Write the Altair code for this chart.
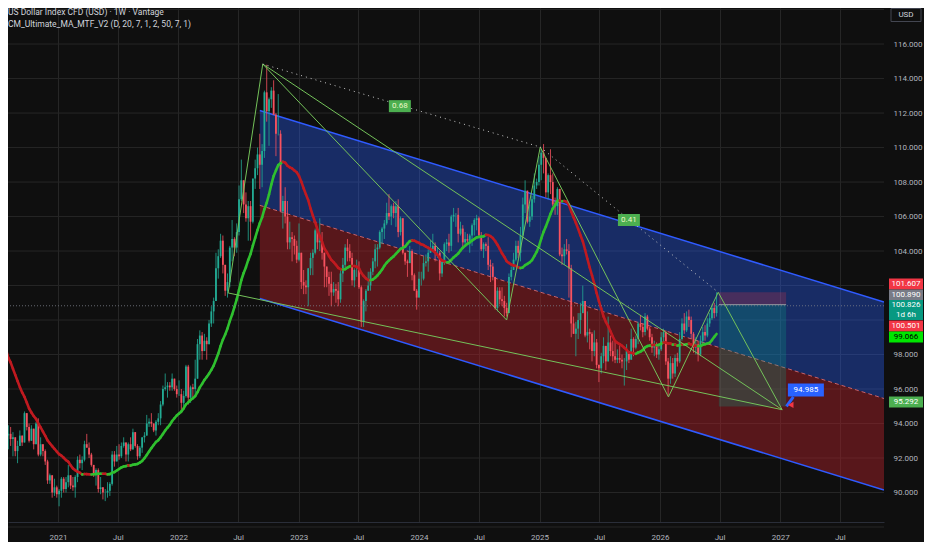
import altair as alt
import pandas as pd

# ---------------- weekly OHLC (open = previous close) ----------------
first_open = 96.0
close_2020 = [98.7, 102.8, 98.4, 100.6, 99.5, 99.8, 100.4, 99.1, 99.7, 100.4, 99.9, 98.3, 96.9, 97.3, 97.6, 97.4, 97.2, 96.6, 96.0, 94.4, 93.3, 93.4, 93.1, 93.2, 92.4, 92.7, 93.3, 92.9, 94.6, 93.8, 93.0, 93.7, 92.8, 94.0, 92.2, 92.8, 92.4, 91.8, 90.7, 91.0, 90.0, 90.3, 89.9]
high_2020 = [99.1, 103.0, 102.9, 100.9, 100.9, 100.2, 100.9, 100.4, 100.3, 100.6, 100.4, 100.0, 98.4, 97.4, 97.8, 97.7, 97.8, 97.3, 96.9, 96.0, 94.5, 93.9, 93.8, 93.5, 93.2, 93.0, 93.6, 93.3, 94.7, 94.6, 94.0, 93.9, 93.7, 94.1, 94.3, 93.2, 92.8, 92.5, 91.9, 91.1, 91.0, 90.8, 90.4]
low_2020 = [94.9, 98.7, 98.2, 97.9, 99.4, 98.9, 99.6, 98.8, 99.2, 99.6, 99.0, 98.3, 96.4, 95.7, 96.4, 96.4, 96.9, 96.2, 95.9, 94.3, 92.8, 92.5, 92.7, 92.1, 92.1, 91.7, 92.7, 92.7, 92.9, 93.6, 92.9, 93.0, 92.5, 92.8, 92.1, 92.1, 92.1, 91.6, 90.5, 90.5, 89.7, 89.8, 89.7]

close_2021 = [90.1, 90.8, 90.2, 90.6, 91.0, 90.4, 90.3, 90.9, 91.9, 91.7, 91.9, 92.8, 92.6, 92.2, 91.6, 91.0, 91.3, 90.2, 90.3, 90.0, 90.0, 90.1, 90.5, 92.2, 91.8, 92.2, 92.1, 92.7, 92.9, 92.2, 92.8, 92.5, 93.5, 92.7, 92.1, 92.6, 93.2, 93.3, 94.0, 94.1, 94.0, 93.6, 94.1, 94.3, 95.1, 96.0, 96.1, 96.2, 96.1, 96.6, 96.0, 95.7]
high_2021 = [90.2, 90.9, 90.9, 90.9, 91.6, 91.0, 90.9, 91.0, 92.1, 92.2, 92.1, 93.0, 93.4, 92.9, 92.3, 91.6, 91.4, 91.4, 90.9, 90.3, 90.2, 90.6, 90.6, 92.4, 92.4, 92.7, 92.8, 92.9, 93.2, 92.9, 92.9, 93.2, 93.7, 93.2, 92.8, 92.7, 93.2, 93.5, 94.5, 94.3, 94.6, 94.0, 94.2, 94.6, 95.3, 96.2, 96.9, 96.4, 96.4, 96.9, 96.6, 96.2]
low_2021 = [89.2, 89.7, 90.0, 90.0, 90.3, 90.2, 90.1, 89.7, 90.6, 91.4, 91.3, 91.8, 92.6, 92.0, 91.5, 90.9, 90.4, 90.0, 89.9, 89.6, 89.5, 89.7, 89.8, 90.4, 91.5, 91.8, 91.9, 92.0, 92.6, 91.8, 91.8, 92.4, 92.5, 92.6, 91.9, 92.0, 92.3, 92.9, 93.3, 93.8, 93.8, 93.5, 93.3, 93.9, 93.9, 95.0, 95.9, 95.5, 95.9, 95.9, 95.9, 95.5]

close_2022 = [95.7, 95.2, 95.6, 97.3, 95.5, 96.1, 96.0, 96.6, 98.6, 99.1, 98.2, 98.8, 98.6, 99.8, 100.5, 101.1, 103.0, 103.7, 104.6, 103.2, 101.7, 102.2, 104.2, 104.7, 104.2, 105.1, 107.0, 108.1, 106.7, 105.9, 106.6, 105.7, 108.2, 108.8, 109.6, 109.0, 109.8, 113.2, 112.1, 112.8, 113.3, 111.9, 110.8, 110.8, 106.3, 106.9, 106.0, 104.5, 104.8, 104.7, 104.3, 103.5]
high_2022 = [96.5, 96.0, 95.9, 97.4, 97.4, 96.2, 96.3, 97.7, 98.9, 99.4, 99.3, 99.2, 99.0, 100.0, 100.8, 101.3, 103.9, 104.1, 105.0, 104.9, 103.2, 102.7, 104.3, 105.8, 104.8, 105.6, 107.8, 109.3, 108.1, 107.4, 106.9, 106.9, 108.2, 109.3, 110.0, 110.8, 110.2, 113.3, 114.8, 112.9, 113.5, 113.9, 112.0, 113.1, 111.0, 107.2, 107.7, 106.9, 105.7, 105.1, 104.9, 104.6]
low_2022 = [95.6, 94.6, 94.9, 95.5, 95.1, 95.2, 95.5, 95.6, 96.6, 97.7, 97.7, 98.2, 97.7, 98.6, 99.6, 99.8, 101.1, 102.4, 103.6, 102.7, 101.4, 101.3, 101.9, 103.4, 103.7, 103.9, 104.9, 106.9, 106.2, 105.7, 104.6, 104.6, 105.6, 107.6, 108.4, 107.6, 107.7, 109.4, 111.5, 110.1, 112.3, 111.9, 109.5, 110.7, 106.3, 105.3, 105.6, 104.1, 104.1, 103.4, 103.8, 103.3]

close_2023 = [103.9, 102.2, 102.0, 101.9, 103.0, 103.6, 103.9, 105.2, 104.5, 104.6, 103.9, 103.1, 102.5, 102.1, 101.6, 101.8, 101.7, 101.2, 102.7, 103.2, 104.2, 104.0, 103.6, 102.3, 102.9, 102.9, 101.9, 99.9, 101.1, 101.7, 102.0, 102.8, 103.4, 104.1, 104.2, 105.1, 105.3, 105.6, 106.2, 106.0, 106.6, 106.2, 106.6, 105.1, 105.9, 103.9, 103.4, 103.3, 104.0, 102.6, 101.7, 101.3]
high_2023 = [105.6, 103.9, 102.9, 102.3, 103.0, 103.9, 104.1, 105.3, 105.4, 105.9, 105.1, 103.9, 103.1, 102.8, 102.8, 102.2, 102.1, 102.2, 102.9, 103.6, 104.4, 104.7, 104.4, 103.9, 103.0, 103.5, 103.4, 102.0, 101.2, 101.8, 102.8, 103.0, 103.6, 104.4, 104.4, 105.2, 105.4, 105.8, 106.8, 107.3, 106.7, 106.8, 106.9, 107.0, 106.0, 105.8, 103.9, 103.5, 104.3, 104.1, 102.7, 101.8]
low_2023 = [103.4, 101.8, 101.5, 101.5, 100.8, 102.6, 102.6, 103.8, 104.1, 104.0, 103.5, 101.9, 101.9, 101.4, 100.8, 101.4, 101.0, 100.8, 101.0, 102.2, 103.0, 103.4, 103.4, 102.0, 101.9, 102.5, 101.8, 99.6, 99.6, 100.5, 101.7, 101.7, 102.6, 103.0, 103.1, 104.1, 104.4, 104.7, 105.5, 105.8, 105.5, 105.9, 105.4, 104.8, 104.9, 103.8, 103.2, 102.5, 103.3, 102.3, 101.7, 100.6]

close_2024 = [102.4, 102.4, 103.3, 103.4, 103.9, 104.1, 104.3, 103.9, 103.9, 102.7, 103.4, 104.4, 104.5, 104.3, 106.0, 106.1, 106.1, 105.0, 105.3, 104.5, 104.7, 104.6, 104.9, 105.5, 105.8, 105.9, 104.9, 104.1, 104.4, 104.3, 103.2, 103.1, 102.5, 100.7, 101.7, 101.2, 101.1, 100.7, 100.4, 102.5, 102.9, 103.5, 104.3, 103.9, 104.9, 106.7, 107.5, 105.7, 106.0, 107.0, 107.8, 108.0, 109.0]
high_2024 = [102.8, 102.8, 103.7, 103.8, 104.1, 104.6, 105.0, 104.5, 104.2, 104.0, 103.5, 104.5, 104.7, 105.0, 106.1, 106.5, 106.2, 106.5, 105.7, 105.5, 105.1, 105.0, 105.0, 105.6, 105.9, 106.1, 106.0, 105.1, 104.5, 104.5, 104.8, 103.5, 103.3, 102.4, 101.9, 101.9, 101.9, 101.4, 101.0, 102.7, 103.1, 103.9, 104.6, 104.6, 105.4, 107.1, 108.1, 107.5, 106.7, 107.2, 108.5, 108.2, 109.5]
low_2024 = [101.3, 102.0, 102.3, 103.1, 102.8, 103.9, 104.0, 103.4, 103.6, 102.3, 102.5, 103.2, 104.0, 103.9, 104.0, 105.7, 105.4, 104.5, 104.9, 104.1, 104.4, 104.4, 103.9, 104.3, 104.9, 105.2, 104.8, 104.0, 103.6, 104.0, 102.9, 102.2, 102.3, 100.6, 100.5, 100.9, 100.8, 100.2, 100.2, 100.5, 102.3, 102.9, 103.4, 103.6, 103.4, 104.9, 106.2, 105.6, 105.4, 105.8, 106.8, 107.6, 107.8]

close_2025 = [109.7, 109.4, 107.4, 108.4, 108.0, 106.7, 106.6, 107.6, 103.8, 103.7, 104.1, 104.0, 103.0, 99.8, 99.2, 99.5, 100.0, 100.4, 101.1, 99.1, 99.3, 99.2, 98.2, 98.7, 97.4, 97.2, 97.9, 98.5, 97.6, 98.7, 98.2, 97.9, 97.7, 97.8, 97.7, 97.6, 97.6, 98.2, 97.7, 98.9, 98.4, 98.9, 99.8, 99.6, 99.3, 100.2, 99.5, 99.0, 98.4, 98.6, 98.0, 98.3]
high_2025 = [109.9, 110.2, 109.3, 108.5, 109.9, 108.5, 107.1, 107.7, 107.4, 104.2, 104.4, 104.7, 104.4, 103.2, 100.2, 99.9, 100.4, 101.0, 102.0, 101.0, 100.5, 99.5, 99.3, 99.4, 98.9, 97.4, 98.1, 99.0, 98.5, 100.2, 99.1, 98.8, 98.8, 98.3, 98.6, 98.0, 97.8, 98.6, 98.1, 99.5, 99.0, 99.1, 99.9, 100.3, 99.8, 100.4, 100.3, 99.6, 99.2, 98.8, 98.7, 98.5]
low_2025 = [108.1, 108.5, 107.1, 107.0, 107.3, 106.6, 106.1, 106.1, 103.7, 103.2, 103.2, 103.8, 101.3, 99.0, 99.2, 97.9, 98.9, 99.2, 100.4, 99.0, 98.7, 98.3, 97.6, 97.9, 97.2, 96.4, 96.9, 97.5, 97.1, 97.6, 97.9, 97.6, 97.5, 97.5, 97.5, 97.2, 96.2, 97.1, 97.5, 97.7, 97.9, 98.3, 98.6, 99.4, 99.0, 99.1, 99.4, 98.8, 98.1, 97.9, 97.8, 97.7]

close_2026 = [99.0, 99.3, 97.6, 96.6, 97.5, 96.9, 97.8, 97.6, 98.9, 99.8, 99.4, 100.2, 100.0, 99.2, 98.4, 98.6, 98.0, 98.8, 99.3, 99.1, 99.8, 100.1, 100.7, 100.4, 100.826]
high_2026 = [99.3, 99.5, 99.4, 97.8, 97.9, 97.8, 98.0, 98.1, 99.3, 100.1, 100.4, 100.5, 100.6, 100.2, 99.3, 99.0, 98.8, 99.1, 99.6, 99.7, 100.1, 100.4, 100.9, 101.0, 101.607]
low_2026 = [98.2, 98.7, 97.4, 95.6, 96.3, 96.6, 96.7, 97.3, 97.5, 98.8, 99.2, 99.3, 99.6, 98.9, 98.1, 98.0, 97.6, 97.9, 98.6, 98.8, 99.0, 99.6, 100.0, 100.1, 100.2]

first_week = "2020-03-09"
ma_length = 20

# ---------------- drawings ----------------
chan_dates = ["2022-09-05", "2027-11-12"]
chan_top = [112.15, 101.05]
chan_mid = [106.65, 95.45]
chan_bot = [101.25, 90.15]

pat_names = ["A", "B", "C", "D", "E", "F", "T"]
pat_dates = ["2022-06-01", "2022-09-14", "2024-09-23", "2025-01-03", "2026-01-27", "2026-06-27", "2027-01-07"]
pat_vals = [101.57, 114.84, 100.0, 110.03, 95.54, 101.607, 94.8]
pat_links = [("A", "B"), ("B", "C"), ("C", "D"), ("D", "E"), ("E", "F"), ("F", "T"), ("B", "T"), ("A", "T")]
dot_links = [("B", "D"), ("D", "F")]

fib_text = ["0.68", "0.41"]
fib_dates = ["2023-11-04", "2025-09-29"]
fib_vals = [112.4, 105.8]

pos_start, pos_end = "2026-06-29", "2027-01-19"
pos_entry, pos_stop, pos_target = 100.890, 101.607, 94.985

tgt_label = "94.985"
tgt_label_date, tgt_label_val = "2027-03-20", 95.94
tail_dates = ["2027-01-20", "2027-02-10"]
tail_vals = [95.0, 95.55]
arrow_date, arrow_val = "2027-02-02", 95.08

lbl_text = ["101.607", "100.890", "100.501", "99.066", "95.292"]
lbl_pos = [102.09, 101.45, 99.65, 99.01, 95.25]
lbl_bg = ["#f23645", "#787b86", "#f23645", "#00e600", "#4caf50"]
lbl_fg = ["#ffffff", "#ffffff", "#ffffff", "#000000", "#ffffff"]
cur_text = ["100.826", "1d 6h"]
cur_pos = [100.87, 100.27]
cur_box_pos = 100.58

ygrid_vals = list(range(88, 119, 2))
ytick_vals = [88, 90, 92, 94, 96, 98, 104, 106, 108, 110, 112, 114, 116]
xtick_years = [2021, 2022, 2023, 2024, 2025, 2026, 2027]
xtick_months = [1, 7]

title1 = "US Dollar Index CFD (USD) · 1W · Vantage"
title2 = "CM_Ultimate_MA_MTF_V2 (D, 20, 7, 1, 2, 50, 7, 1)"

# ---------------- styles ----------------
BG = "#0f0f0f"
GRID = "#262626"
UP = "#22ab94"
DOWN = "#f7525f"
MA_UP = "#2fc02f"
MA_DN = "#c01a20"
PAT = "#74c25a"
TXT = "#b2b5be"
FONT = "Roboto"
W, H = 876, 514


def ts(s):
    return s + "T00:00:00"


closes, highs, lows = [], [], []
for c, h, l in [(close_2020, high_2020, low_2020), (close_2021, high_2021, low_2021),
                (close_2022, high_2022, low_2022), (close_2023, high_2023, low_2023),
                (close_2024, high_2024, low_2024), (close_2025, high_2025, low_2025),
                (close_2026, high_2026, low_2026)]:
    n = min(len(c), len(h), len(l))
    closes += c[:n]
    highs += h[:n]
    lows += l[:n]

dates = pd.date_range(first_week, periods=len(closes), freq="7D").strftime("%Y-%m-%dT00:00:00").tolist()
opens = [first_open] + closes[:-1]
candles = pd.DataFrame({
    "date": dates,
    "open": opens,
    "close": closes,
    "high": [max(h, o, c) for h, o, c in zip(highs, opens, closes)],
    "low": [min(l, o, c) for l, o, c in zip(lows, opens, closes)],
})
candles["col"] = [UP if c >= o else DOWN for o, c in zip(opens, closes)]

ma = pd.Series(closes).rolling(ma_length).mean().tolist()
ma_seg = pd.DataFrame({"d1": dates[:-1], "d2": dates[1:], "m1": ma[:-1], "m2": ma[1:]}).dropna()
ma_seg["col"] = [MA_UP if b >= a else MA_DN for a, b in zip(ma_seg["m1"], ma_seg["m2"])]

X_SCALE = alt.Scale(domain=[alt.DateTime(year=2020, month=8, date=2), alt.DateTime(year=2027, month=11, date=12)], nice=False)
Y_SCALE = alt.Scale(domain=[88.29, 118.09], nice=False, zero=False)
X_AXIS = alt.Axis(
    values=[alt.DateTime(year=y, month=m, date=1) for y in xtick_years for m in xtick_months],
    labelExpr="month(datum.value) == 0 ? timeFormat(datum.value, '%Y') : 'Jul'",
    grid=True, gridColor=GRID, ticks=False, domain=True, domainColor="#2a2e39",
    labelColor=TXT, labelFont=FONT, labelFontSize=8, labelPadding=11, title=None,
    labelOverlap=False, labelFlush=False)
Y_AXIS = alt.Axis(orient="right", values=ytick_vals, format=".3f", grid=False, ticks=False, domain=False,
                  labelColor=TXT, labelFont=FONT, labelFontSize=8, labelPadding=9, title=None, labelOverlap=False)


def X(f):
    return alt.X(f, type="temporal", scale=X_SCALE, axis=X_AXIS)


def Y(f):
    return alt.Y(f, type="quantitative", scale=Y_SCALE, axis=Y_AXIS)


def box(w, h):
    r = h / w
    return f"M-1,-{r:.4f}L1,-{r:.4f}L1,{r:.4f}L-1,{r:.4f}Z", w * w


layers = []

# horizontal grid
layers.append(alt.Chart(pd.DataFrame({"g": ygrid_vals})).mark_rule(color=GRID, strokeWidth=1).encode(y=Y("g")))

# channel
chan = pd.DataFrame({"date": [ts(d) for d in chan_dates], "top": chan_top, "mid": chan_mid, "bot": chan_bot})
layers.append(alt.Chart(chan).mark_area(color="#2962ff", opacity=0.36, clip=True).encode(x=X("date"), y=Y("top"), y2="mid"))
layers.append(alt.Chart(chan).mark_area(color="#b2222a", opacity=0.45, clip=True).encode(x=X("date"), y=Y("mid"), y2="bot"))
layers.append(alt.Chart(chan).mark_line(color="#2f5bff", strokeWidth=1.5, clip=True).encode(x=X("date"), y=Y("top")))
layers.append(alt.Chart(chan).mark_line(color="#2f5bff", strokeWidth=1.5, clip=True).encode(x=X("date"), y=Y("bot")))
layers.append(alt.Chart(chan).mark_line(color="#c9626a", strokeWidth=1, strokeDash=[4, 3], clip=True).encode(x=X("date"), y=Y("mid")))

# position tool
pos = pd.DataFrame({"s": [ts(pos_start)], "e": [ts(pos_end)], "entry": [pos_entry], "stop": [pos_stop], "target": [pos_target]})
layers.append(alt.Chart(pos).mark_rect(color="#f23645", opacity=0.22).encode(x=X("s"), x2="e", y=Y("entry"), y2="stop"))
layers.append(alt.Chart(pos).mark_rect(color="#089981", opacity=0.28).encode(x=X("s"), x2="e", y=Y("target"), y2="entry"))
layers.append(alt.Chart(pos).mark_rule(color="#9598a1", strokeWidth=1).encode(x=X("s"), x2="e", y=Y("entry")))

# candles
layers.append(alt.Chart(candles).mark_rule(strokeWidth=0.8, clip=True).encode(
    x=X("date"), y=Y("low"), y2="high", color=alt.Color("col:N", scale=None)))
layers.append(alt.Chart(candles).mark_rule(strokeWidth=1.8, clip=True).encode(
    x=X("date"), y=Y("open"), y2="close", color=alt.Color("col:N", scale=None)))

# moving average
layers.append(alt.Chart(ma_seg).mark_rule(strokeWidth=2.6, strokeCap="round", clip=True).encode(
    x=X("d1"), x2="d2", y=Y("m1"), y2="m2", color=alt.Color("col:N", scale=None)))

# pattern lines
idx = {n: i for i, n in enumerate(pat_names)}


def seg_df(links):
    return pd.DataFrame({
        "d1": [ts(pat_dates[idx[a]]) for a, b in links],
        "d2": [ts(pat_dates[idx[b]]) for a, b in links],
        "v1": [pat_vals[idx[a]] for a, b in links],
        "v2": [pat_vals[idx[b]] for a, b in links],
    })


layers.append(alt.Chart(seg_df(pat_links)).mark_rule(color=PAT, strokeWidth=1, clip=True).encode(
    x=X("d1"), x2="d2", y=Y("v1"), y2="v2"))
layers.append(alt.Chart(seg_df(dot_links)).mark_rule(color="#c8c8c8", strokeWidth=1, strokeDash=[1, 4], clip=True).encode(
    x=X("d1"), x2="d2", y=Y("v1"), y2="v2"))

# current price dotted line
layers.append(alt.Chart(pd.DataFrame({"p": [closes[-1]]})).mark_rule(color="#7c808a", strokeWidth=1, strokeDash=[1, 2], opacity=0.8).encode(y=Y("p")))

# fib ratio labels
fib = pd.DataFrame({"d": [ts(d) for d in fib_dates], "v": fib_vals, "t": fib_text})
p, s = box(22, 12)
layers.append(alt.Chart(fib).mark_point(shape=p, size=s, filled=True, color="#4caf50", opacity=1, strokeWidth=0).encode(x=X("d"), y=Y("v")))
layers.append(alt.Chart(fib).mark_text(color="#eef8c8", font=FONT, fontSize=8, baseline="middle").encode(x=X("d"), y=Y("v"), text="t"))

# target price label
tail = pd.DataFrame({"d1": [ts(tail_dates[0])], "d2": [ts(tail_dates[1])], "v1": [tail_vals[0]], "v2": [tail_vals[1]]})
layers.append(alt.Chart(tail).mark_rule(color="#2962ff", strokeWidth=3).encode(x=X("d1"), x2="d2", y=Y("v1"), y2="v2"))
layers.append(alt.Chart(pd.DataFrame({"d": [ts(arrow_date)], "v": [arrow_val]})).mark_point(
    shape="triangle-left", size=40, filled=True, color="#f23645", opacity=1).encode(x=X("d"), y=Y("v")))
tl = pd.DataFrame({"d": [ts(tgt_label_date)], "v": [tgt_label_val], "t": [tgt_label]})
p, s = box(36, 13)
layers.append(alt.Chart(tl).mark_point(shape=p, size=s, filled=True, color="#2962ff", opacity=1, strokeWidth=0).encode(x=X("d"), y=Y("v")))
layers.append(alt.Chart(tl).mark_text(color="#ffffff", font=FONT, fontSize=8, baseline="middle").encode(x=X("d"), y=Y("v"), text="t"))

# right-hand price labels
rl = pd.DataFrame({"t": lbl_text, "v": lbl_pos, "bg": lbl_bg, "fg": lbl_fg})
p, s = box(34, 11)
layers.append(alt.Chart(rl).mark_point(shape=p, size=s, filled=True, opacity=1, strokeWidth=0).encode(
    x=alt.value(W + 22), y=Y("v"), color=alt.Color("bg:N", scale=None)))
layers.append(alt.Chart(rl).mark_text(font=FONT, fontSize=8, baseline="middle").encode(
    x=alt.value(W + 22), y=Y("v"), text="t", color=alt.Color("fg:N", scale=None)))
p, s = box(34, 20)
layers.append(alt.Chart(pd.DataFrame({"v": [cur_box_pos]})).mark_point(shape=p, size=s, filled=True, color="#089981", opacity=1, strokeWidth=0).encode(
    x=alt.value(W + 22), y=Y("v")))
layers.append(alt.Chart(pd.DataFrame({"v": cur_pos, "t": cur_text})).mark_text(font=FONT, fontSize=8, baseline="middle", color="#ffffff").encode(
    x=alt.value(W + 22), y=Y("v"), text="t"))

# header texts and currency box
layers.append(alt.Chart(pd.DataFrame({"t": [title1]})).mark_text(align="left", baseline="middle", font=FONT, fontSize=8.5, color="#d1d4dc").encode(
    x=alt.value(0), y=alt.value(4), text="t"))
layers.append(alt.Chart(pd.DataFrame({"t": [title2]})).mark_text(align="left", baseline="middle", font=FONT, fontSize=8.5, color="#d1d4dc").encode(
    x=alt.value(0), y=alt.value(16), text="t"))
p, s = box(30, 13)
layers.append(alt.Chart(pd.DataFrame({"t": ["USD"]})).mark_point(shape=p, size=s, filled=False, stroke="#434651", strokeWidth=1, opacity=1).encode(
    x=alt.value(W + 22), y=alt.value(7)))
layers.append(alt.Chart(pd.DataFrame({"t": ["USD"]})).mark_text(baseline="middle", font=FONT, fontSize=8, color="#d1d4dc").encode(
    x=alt.value(W + 22), y=alt.value(7), text="t"))

chart = alt.layer(*layers).properties(
    width=W, height=H,
    padding={"left": 0, "top": 0, "right": 40, "bottom": 20},
    autosize=alt.AutoSizeParams(type="none"),
    background=BG,
).configure_view(strokeWidth=0)

chart.save("out.html", embed_options={"renderer": "svg", "actions": False})
